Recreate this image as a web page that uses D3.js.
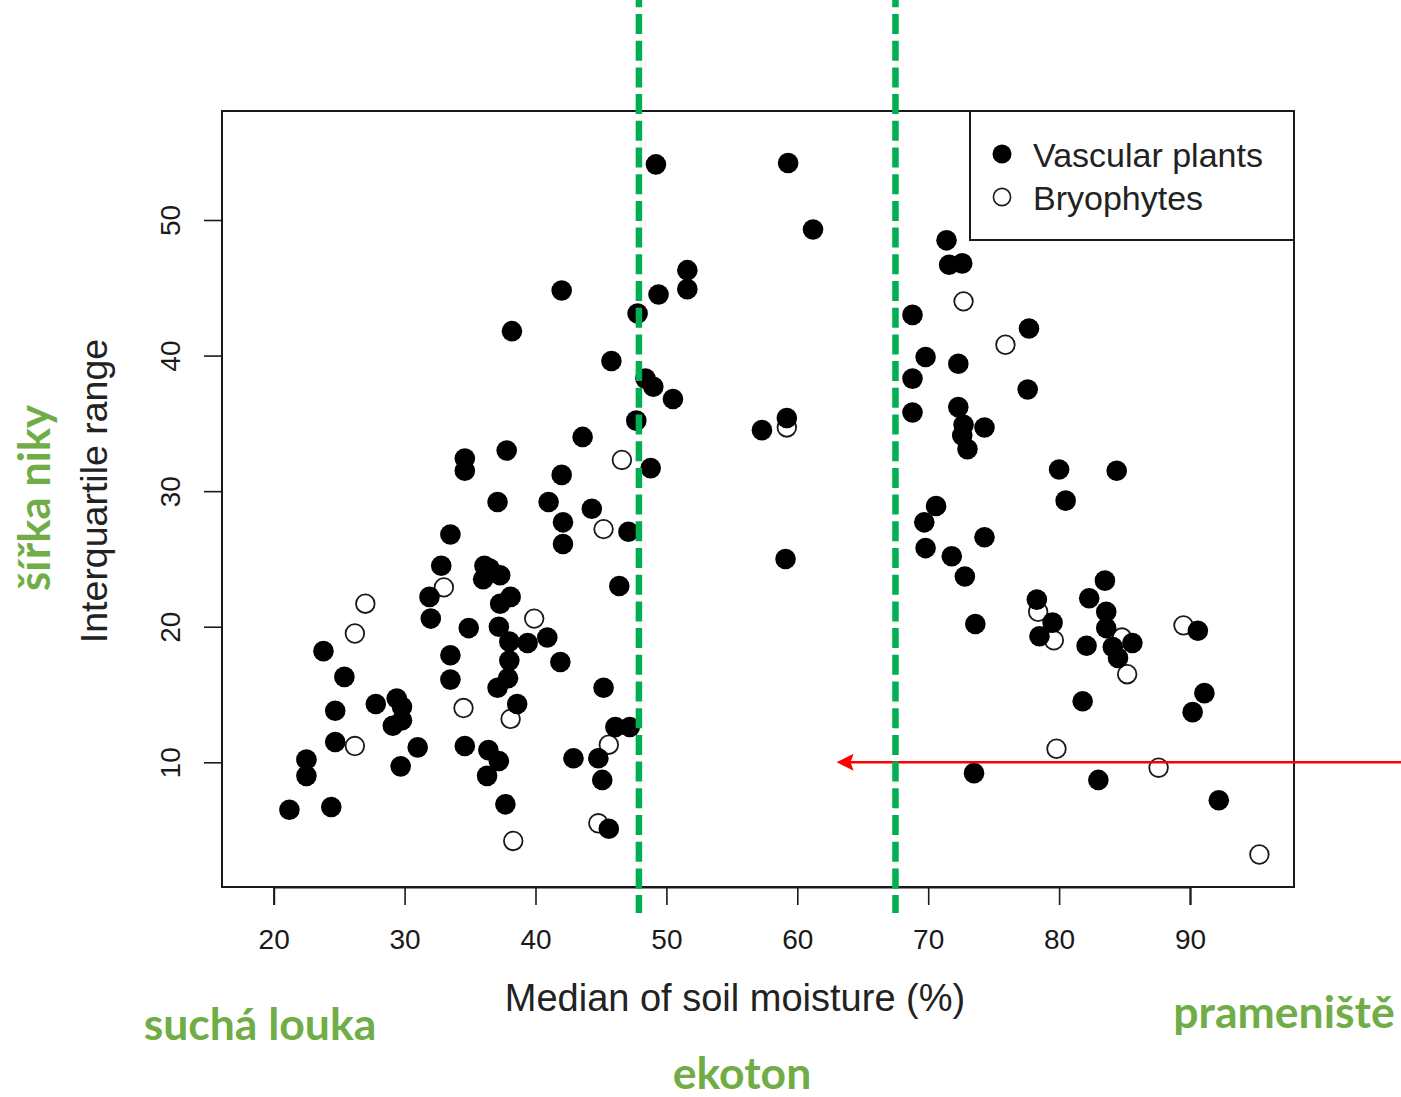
<!DOCTYPE html>
<html>
<head>
<meta charset="utf-8">
<script src="https://cdn.jsdelivr.net/npm/d3@7"></script>
<style>
  html, body { margin: 0; padding: 0; background: #fff; }
  svg { display: block; }
</style>
</head>
<body>
<svg id="chart" width="1401" height="1097"></svg>
<script>
// Niche width (interquartile range) vs. median soil moisture
const vascularX = [21.2, 24.4, 22.5, 22.5, 24.7, 24.7, 23.8, 25.4, 27.8, 29.4, 29.8, 29.8, 29.1, 29.7, 31.0,
  32.0, 31.9, 32.8, 33.5, 33.5, 33.5, 34.6, 34.6, 34.6, 34.9, 36.1, 36.5, 37.3, 36.0, 38.1, 37.3, 37.2, 38.0,
  38.0, 37.9, 37.1, 36.4, 37.2, 36.3, 37.7, 38.6, 39.4, 40.9, 41.9, 37.8, 37.1, 38.2, 41.0, 42.1, 42.1, 42.0,
  42.0, 43.6, 44.3, 42.9, 44.8, 45.1, 45.6, 45.2, 46.1, 47.2, 46.4, 47.1, 45.8, 47.8, 48.4, 49.0, 50.5, 47.7,
  48.8, 49.4, 49.2, 51.6, 51.6,
  59.3, 61.2, 57.3, 59.2, 59.1,
  71.4, 71.6, 72.6, 68.8, 69.8, 72.3, 68.8, 68.8, 72.3, 72.7, 72.6, 73.0, 74.3, 77.7, 77.6, 80.0, 84.4, 80.5,
  70.6, 69.7, 69.8, 71.8, 72.8, 74.3, 73.6, 78.3, 79.5, 78.5, 83.5, 82.3, 83.6, 83.6, 84.1, 85.6, 84.5, 82.1,
  90.6, 81.8, 91.1, 90.2, 73.5, 83.0, 92.2];
const vascularY = [6.5, 6.7, 10.2, 9.0, 11.5, 13.8, 18.2, 16.3, 14.3, 14.7, 14.1, 13.1, 12.7, 9.7, 11.1,
  20.6, 22.2, 24.5, 26.8, 17.9, 16.1, 32.4, 31.5, 11.2, 19.9, 24.5, 24.3, 23.8, 23.5, 22.2, 21.7, 20.0, 18.9,
  17.5, 16.2, 15.5, 10.9, 10.1, 9.0, 6.9, 14.3, 18.8, 19.2, 17.4, 33.0, 29.2, 41.8, 29.2, 27.7, 26.1, 31.2,
  44.8, 34.0, 28.7, 10.3, 10.3, 8.7, 5.1, 15.5, 12.6, 12.6, 23.0, 27.0, 39.6, 43.1, 38.3, 37.7, 36.8, 35.2,
  31.7, 44.5, 54.1, 46.3, 44.9,
  54.2, 49.3, 34.5, 35.4, 25.0,
  48.5, 46.7, 46.8, 43.0, 39.9, 39.4, 38.3, 35.8, 36.2, 34.9, 34.1, 33.1, 34.7, 42.0, 37.5, 31.6, 31.5, 29.3,
  28.9, 27.7, 25.8, 25.2, 23.7, 26.6, 20.2, 22.0, 20.3, 19.3, 23.4, 22.1, 21.1, 19.9, 18.5, 18.8, 17.7, 18.6,
  19.7, 14.5, 15.1, 13.7, 9.2, 8.7, 7.2];

const bryoX = [27.0, 26.2, 26.2, 33.0, 34.5, 38.1, 38.3, 39.9, 46.6, 45.2, 45.6, 44.8, 59.2,
  72.7, 75.9, 78.4, 79.6, 84.8, 85.2, 89.5, 79.8, 87.6, 95.3];
const bryoY = [21.7, 19.5, 11.2, 22.9, 14.0, 13.2, 4.2, 20.6, 32.3, 27.2, 11.3, 5.5, 34.7,
  44.0, 40.8, 21.1, 19.0, 19.2, 16.5, 20.1, 11.0, 9.6, 3.2];

const xTicks = [20, 30, 40, 50, 60, 70, 80, 90];
const yTicks = [10, 20, 30, 40, 50];
const legendLabels = ["Vascular plants", "Bryophytes"];

// Moisture limits of the ecotone and the niche-width reference level
const ecotoneBounds = [47.9, 67.5];
const arrowLevel = 10;
const arrowTip = 63;

const habitatLabels = ["suchá louka", "ekoton", "prameniště"];
const nicheLabel = "šířka niky";

const svg = d3.select("#chart");
const W = 1401, H = 1097;
const frame = { left: 222, right: 1294, top: 111, bottom: 887 };

const x = d3.scaleLinear().domain([20, 90]).range([273.7, 1190]);
const y = d3.scaleLinear().domain([10, 50]).range([762.3, 220]);

const FONT = "'Liberation Sans', Arial, Helvetica, sans-serif";
const INK = "#1a1a1a";

// bryophytes (open circles) underneath, vascular plants on top
svg.append("g").selectAll("circle")
  .data(d3.zip(bryoX, bryoY))
  .join("circle")
  .attr("cx", d => x(d[0]))
  .attr("cy", d => y(d[1]))
  .attr("r", 9.3)
  .attr("fill", "none")
  .attr("stroke", INK)
  .attr("stroke-width", 1.8);

svg.append("g").selectAll("circle")
  .data(d3.zip(vascularX, vascularY))
  .join("circle")
  .attr("cx", d => x(d[0]))
  .attr("cy", d => y(d[1]))
  .attr("r", 10.3)
  .attr("fill", "#000");

// plot frame
svg.append("rect")
  .attr("x", frame.left).attr("y", frame.top)
  .attr("width", frame.right - frame.left)
  .attr("height", frame.bottom - frame.top)
  .attr("fill", "none").attr("stroke", INK).attr("stroke-width", 2);

// x axis below the frame
const xAxis = svg.append("g")
  .attr("transform", `translate(0,${frame.bottom})`)
  .call(d3.axisBottom(x).tickValues(xTicks).tickSize(18).tickPadding(24).tickFormat(d3.format("d")));
xAxis.select(".domain").attr("stroke", INK).attr("stroke-width", 2);
xAxis.selectAll(".tick line").attr("stroke", INK).attr("stroke-width", 1.6);
xAxis.selectAll(".tick text")
  .attr("font-family", FONT).attr("font-size", 28).attr("fill", INK);

// y axis with labels parallel to the axis
const yAxis = svg.append("g")
  .attr("transform", `translate(${frame.left},0)`)
  .call(d3.axisLeft(y).tickValues(yTicks).tickSize(18).tickFormat(d3.format("d")));
yAxis.select(".domain").remove();
yAxis.selectAll(".tick line").attr("stroke", INK).attr("stroke-width", 1.6);
yAxis.selectAll(".tick text")
  .attr("font-family", FONT).attr("font-size", 28).attr("fill", INK)
  .attr("x", null).attr("dy", null)
  .attr("text-anchor", "middle")
  .attr("dominant-baseline", "central")
  .attr("transform", "translate(-52,0) rotate(-90)");

// axis titles
svg.append("text")
  .attr("x", 735).attr("y", 1011)
  .attr("text-anchor", "middle")
  .attr("font-family", FONT).attr("font-size", 38).attr("fill", "#222")
  .text("Median of soil moisture (%)");

svg.append("text")
  .attr("transform", "translate(107,491) rotate(-90)")
  .attr("text-anchor", "middle")
  .attr("font-family", FONT).attr("font-size", 37.5).attr("fill", "#222")
  .text("Interquartile range");

// legend
const legend = svg.append("g");
legend.append("rect")
  .attr("x", 970).attr("y", frame.top)
  .attr("width", frame.right - 970).attr("height", 240 - frame.top)
  .attr("fill", "#fff").attr("stroke", INK).attr("stroke-width", 2);
legend.append("circle").attr("cx", 1002).attr("cy", 154).attr("r", 9.5).attr("fill", "#000");
legend.append("circle").attr("cx", 1002).attr("cy", 197).attr("r", 8.6)
  .attr("fill", "none").attr("stroke", INK).attr("stroke-width", 1.6);
legend.selectAll("text.lg")
  .data(legendLabels)
  .join("text")
  .attr("class", "lg")
  .attr("x", 1033)
  .attr("y", (d, i) => 155 + i * 43)
  .attr("dominant-baseline", "central")
  .attr("font-family", FONT).attr("font-size", 34).attr("fill", "#222")
  .text(d => d);

// reference arrow at niche width 10
svg.append("line")
  .attr("x1", W).attr("x2", x(arrowTip) + 12)
  .attr("y1", y(arrowLevel)).attr("y2", y(arrowLevel))
  .attr("stroke", "#ff0000").attr("stroke-width", 2.6);
const tipX = x(arrowTip), tipY = y(arrowLevel);
svg.append("path")
  .attr("d", `M${tipX},${tipY} L${tipX + 17},${tipY - 8.5} L${tipX + 14},${tipY} L${tipX + 17},${tipY + 8.5} Z`)
  .attr("fill", "#ff0000");

// ecotone boundaries
svg.append("g").selectAll("line")
  .data(ecotoneBounds)
  .join("line")
  .attr("x1", d => x(d)).attr("x2", d => x(d))
  .attr("y1", -12.7).attr("y2", 913)
  .attr("stroke", "#00b050").attr("stroke-width", 6.5)
  .attr("stroke-dasharray", "20,6.7");

// habitat annotations
const GREEN = "#70ad47";
const GFONT = "Lato, 'Open Sans', sans-serif";
const habitatPos = [[260, 1040], [742, 1089], [1284, 1028]];
svg.append("g").selectAll("text")
  .data(habitatLabels)
  .join("text")
  .attr("x", (d, i) => habitatPos[i][0])
  .attr("y", (d, i) => habitatPos[i][1])
  .attr("text-anchor", "middle")
  .attr("font-family", GFONT).attr("font-weight", 700).attr("font-size", 44.5)
  .attr("fill", GREEN)
  .text(d => d);

svg.append("text")
  .attr("transform", "translate(50,498) rotate(-90)")
  .attr("text-anchor", "middle")
  .attr("font-family", GFONT).attr("font-weight", 700).attr("font-size", 43.5)
  .attr("fill", GREEN)
  .text(nicheLabel);
</script>
</body>
</html>
